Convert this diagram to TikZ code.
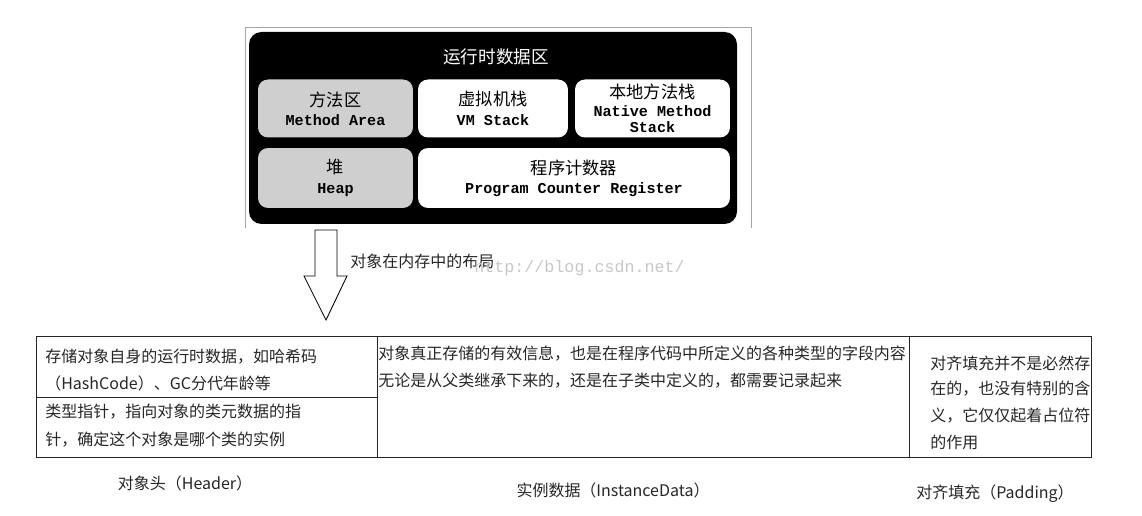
\documentclass[tikz,border=0pt]{standalone}
\usepackage{fontspec}
\setmainfont{Noto Sans CJK SC}
\newfontfamily\monof{Liberation Mono}
\newcommand{\entxt}[1]{{\monof\bfseries\fontsize{8.6}{9.4}\selectfont #1}}
\usepackage{tikz}
\usetikzlibrary{positioning}

\begin{document}
\begin{tikzpicture}[x=0.02cm,y=-0.02cm,
  area/.style={rounded corners=2mm,fill=white,minimum height=1.16cm,inner sep=0pt,align=center,font=\fontsize{9.8}{11}\selectfont},
  grey/.style={area,fill=black!19},
  txt/.style={anchor=west,inner sep=0pt,font=\fontsize{9.1}{11}\selectfont,text=black!85},
  capt/.style={inner sep=0pt,font=\fontsize{9.1}{11}\selectfont,text=black!85}]
\useasboundingbox (0,0) rectangle (1142,516);
% runtime data area screenshot
\draw[black!35] (245,228) -- (245,27) -- (751,27) -- (751,228);
\fill[black,rounded corners=2.5mm] (249,32) rectangle (737,224);
\node[text=white,font=\fontsize{10}{12}\selectfont] (rt) at (496,57) {运行时数据区};
\node[grey,minimum width=3.1cm] (ma) at (335.5,108.5) {方法区\\[0pt]\entxt{Method Area}};
\node[area,minimum width=3.0cm] (vm) at (493,108.5) {虚拟机栈\\[0pt]\entxt{VM Stack}};
\node[area,minimum width=3.1cm] (ns) at (652.5,108.5) {本地方法栈\\[-1pt]\entxt{Native Method}\\[-1.5pt]\entxt{Stack}};
\node[grey,minimum width=3.1cm,minimum height=1.2cm] (hp) at (335.5,178) {堆\\[0pt]\entxt{Heap}};
\node[area,minimum width=6.24cm,minimum height=1.2cm] (pc) at (574,178) {程序计数器\\[0pt]\entxt{Program Counter Register}};
% hollow arrow
\draw[black,line width=0.5pt] (315,230) -- (337,230) -- (337,276) -- (347,276) -- (326,320) -- (304,276) -- (315,276) -- cycle;
\node[txt] (lay) at (350,261) {对象在内存中的布局};
\node[anchor=west,inner sep=0pt,text=black!22,font=\monof\fontsize{9.5}{11}\selectfont] (wm) at (474,268) {http://blog.csdn.net/};
% object layout table
\draw[black!85] (36,336) rectangle (1091,457);
\draw[black!85] (377,336) -- (377,457);
\draw[black!85] (909,336) -- (909,457);
\draw[black!85] (36,397) -- (377,397);
\node[txt] (h1) at (45,357) {存储对象自身的运行时数据，如哈希码};
\node[txt] (h2) at (45,383) {（HashCode）、GC分代年龄等};
\node[txt] (h3) at (45,412) {类型指针，指向对象的类元数据的指};
\node[txt] (h4) at (45,440) {针，确定这个对象是哪个类的实例};
\node[txt] (d1) at (378,354) {对象真正存储的有效信息，也是在程序代码中所定义的各种类型的字段内容};
\node[txt] (d2) at (378,381) {无论是从父类继承下来的，还是在子类中定义的，都需要记录起来};
\node[txt] (p1) at (930,363) {对齐填充并不是必然存};
\node[txt] (p2) at (930,389) {在的，也没有特别的含};
\node[txt] (p3) at (930,416) {义，它仅仅起着占位符};
\node[txt] (p4) at (930,442) {的作用};
% captions
\node[capt] (hd) at (185,483) {对象头（Header）};
\node[capt] (id) at (613,490) {实例数据（InstanceData）};
\node[capt] (pd) at (995,494) {对齐填充（Padding）};
\end{tikzpicture}
\end{document}
